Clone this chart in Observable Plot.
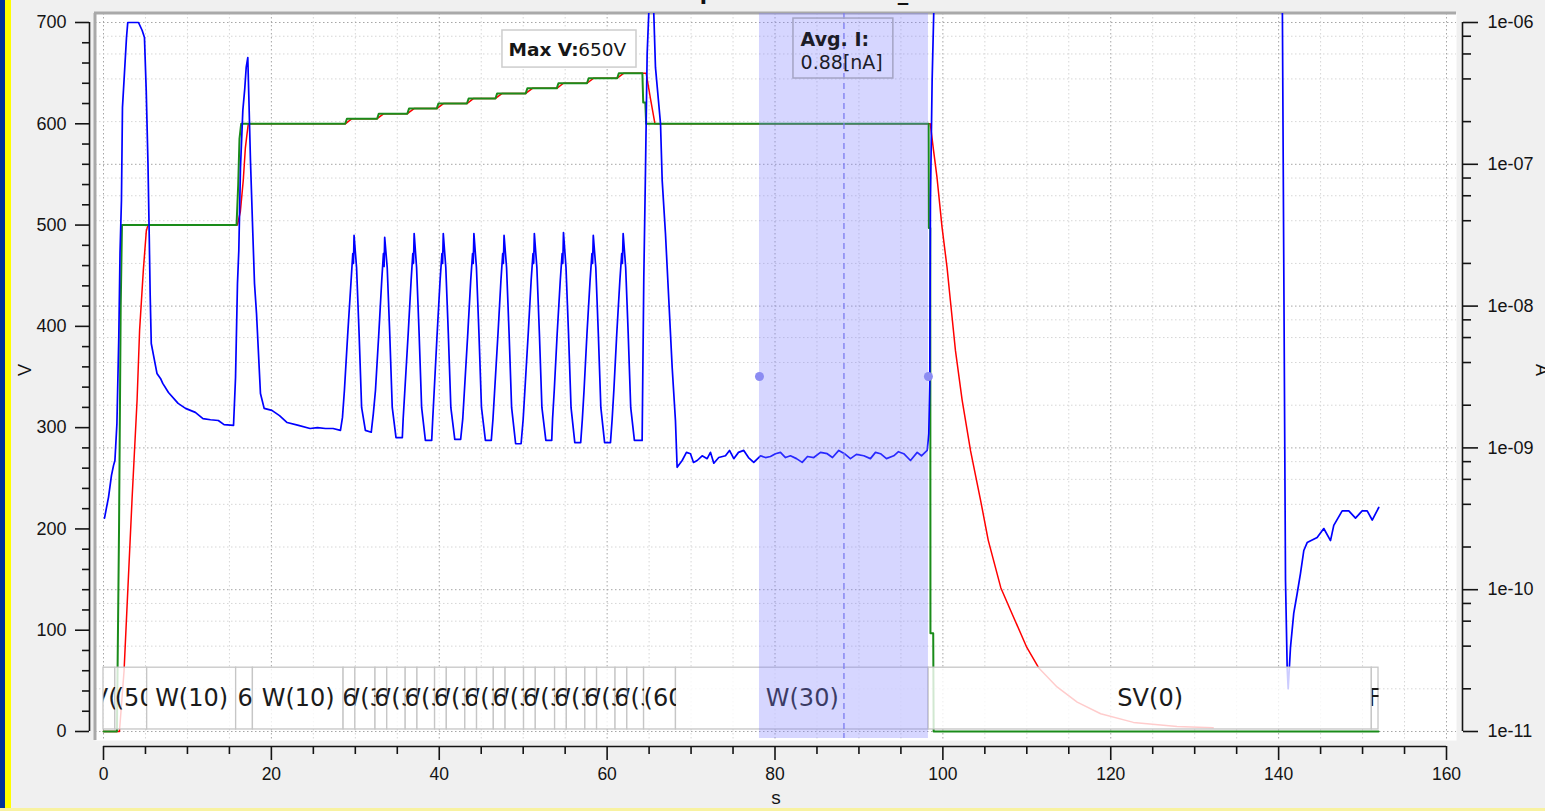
<!DOCTYPE html>
<html><head><meta charset="utf-8">
<script src="https://cdn.jsdelivr.net/npm/d3@7"></script>
<script src="https://cdn.jsdelivr.net/npm/@observablehq/plot@0.6"></script>
<style>
html,body{margin:0;padding:0;background:#f0f0f0;overflow:hidden;}
#wrap{position:relative;width:1545px;height:811px;overflow:hidden;background:#f0f0f0;}
#title{position:absolute;left:0;width:1585px;top:-19px;line-height:21px;text-align:center;font:bold 21px "DejaVu Sans";color:#111;white-space:nowrap;}
.stripeB{position:absolute;left:0;top:0;width:5px;height:811px;background:#003399;}
.stripeY{position:absolute;left:5px;top:0;width:6px;height:811px;background:#ffff00;}
.bottomY{position:absolute;left:0;bottom:0;width:1545px;height:3px;background:#f8f2a0;}
#chart{position:absolute;left:0;top:0;}
</style></head><body>
<div id="wrap">
  <div id="title">Ramp Hold test 650V_01</div>
  <div id="chart"></div>
  <div class="stripeB"></div><div class="stripeY"></div><div class="bottomY"></div>
</div>
<script>
// ---------- data ----------
// set voltage [s, V]
const setVoltage = [[0,0],[1.6,0],[1.85,200],[2.05,420],[2.2,500],[15.85,500],[15.95,520],[16.05,540],[16.2,585],[16.4,600],
 [28.8,600],[29.0,605],[32.6,605],[32.8,610],[36.2,610],[36.4,615],[39.7,615],[39.9,620],[43.3,620],[43.5,625],
 [46.7,625],[46.9,630],[50.3,630],[50.5,635],[54.0,635],[54.2,640],[57.6,640],[57.8,645],[61.2,645],[61.4,650],
 [64.2,650],[64.3,621],[64.55,621],[64.65,600],[98.3,600],[98.33,497],[98.5,497],[98.52,97],[98.85,97],[98.9,0],[151.9,0]];
// measured voltage [s, V]
const measVoltage = [[0,0],[1.9,0],[2.45,60],[3.4,229],[4.0,327],[4.3,396],[4.75,456],[5.1,494],[5.3,500],
 [15.95,500],[16.3,513],[16.65,544],[16.9,576],[17.1,590],[17.25,600],
 [28.8,600],[29.6,605],[32.6,605],[33.4,610],[36.2,610],[37.0,615],[39.7,615],[40.5,620],[43.3,620],[44.1,625],
 [46.7,625],[47.5,630],[50.3,630],[51.1,635],[54.0,635],[54.8,640],[57.6,640],[58.4,645],[61.2,645],[62.0,650],
 [64.65,650],[65.2,623],[65.7,600],
 [98.5,600],[98.9,573],[99.3,547],[99.9,498],[100.5,458],[100.9,425],[101.5,376],[102.3,327],[103.3,277],[104.5,228],
 [105.4,189],[106.9,142],[108.1,119],[110.0,83],[111.4,63],[113.6,44],[116.0,29],[118.8,17.5],[122.7,9],[127.9,5],[132.2,3.6]];
// current [s, nA]
const current = [[0.12,0.32],[0.6,0.45],[0.95,0.64],[1.19,0.75],[1.36,0.815],[1.6,1.49],[1.82,6.0],[1.97,23.9],[2.14,56],[2.26,252],
 [2.5,444],[2.74,784],[2.89,1000],[4.17,1000],[4.61,878],[4.88,784],[5.09,332],[5.3,100],[5.45,31],[5.56,12],[5.69,5.45],
 [5.96,4.49],[6.37,3.35],[6.79,3.09],[7.06,2.85],[7.74,2.46],[8.89,2.06],[9.77,1.90],[10.94,1.78],[11.85,1.61],[12.75,1.58],
 [13.68,1.56],[14.36,1.46],[15.49,1.44],[15.73,3.14],[15.96,14.4],[16.12,24.7],[16.32,95],[16.6,240],[16.83,342],[17.0,482],
 [17.19,566],[17.31,306],[17.51,106],[17.79,32.5],[17.99,14.4],[18.23,8.87],[18.7,2.42],[19.14,1.90],[20.06,1.84],[20.97,1.69],
 [21.88,1.51],[23.23,1.44],[24.61,1.37],[25.49,1.39],[26.45,1.37],[27.35,1.37],[28.23,1.33],[28.47,1.64],
 [28.7,2.54],[29.1,6.41],[29.5,15.2],[29.7,23.5],[29.78,20],[29.85,31.5],[30.15,18.7],[30.45,6.41],[30.75,1.93],[31.2,1.33],[31.9,1.29],
 [32.15,1.75],[32.4,2.54],[32.8,6.41],[33.15,15.2],[33.35,23.5],[33.43,19],[33.5,30.5],[33.8,18.7],[34.1,6.41],[34.4,1.93],[34.85,1.18],[35.6,1.18],
 [35.7,1.6],[35.9,2.54],[36.3,6.41],[36.65,15.2],[36.85,23.5],[36.93,20],[37.01,32.5],[37.3,18.7],[37.6,6.41],[37.9,1.93],[38.35,1.13],[39.1,1.13],
 [39.2,1.5],[39.4,2.54],[39.75,6.41],[40.1,15.2],[40.32,23.5],[40.4,20],[40.48,32.5],[40.78,18.7],[41.08,6.41],[41.38,1.93],[41.85,1.15],[42.55,1.15],
 [42.8,1.6],[43.0,2.54],[43.4,6.41],[43.75,15.2],[43.97,23.5],[44.05,20],[44.13,32.5],[44.43,18.7],[44.73,6.41],[45.03,1.93],[45.5,1.13],[46.2,1.13],
 [46.4,1.6],[46.6,2.54],[47.0,6.41],[47.35,15.2],[47.56,23.5],[47.64,20],[47.72,31.5],[48.02,18.7],[48.32,6.41],[48.62,1.93],[49.1,1.07],[49.75,1.07],
 [50.0,1.6],[50.2,2.54],[50.6,6.41],[50.95,15.2],[51.17,23.5],[51.25,20],[51.33,32.5],[51.63,18.7],[51.93,6.41],[52.23,1.93],[52.7,1.13],[53.4,1.13],
 [53.5,1.6],[53.7,2.54],[54.05,6.41],[54.42,15.2],[54.64,23.5],[54.72,20],[54.8,33],[55.1,18.7],[55.4,6.41],[55.7,1.93],[56.15,1.09],[56.85,1.09],
 [57.05,1.6],[57.25,2.54],[57.6,6.41],[57.97,15.2],[58.19,23.5],[58.27,20],[58.35,31.5],[58.65,18.7],[58.95,6.41],[59.25,1.93],[59.7,1.09],[60.4,1.09],
 [60.6,1.6],[60.8,2.54],[61.15,6.41],[61.52,15.2],[61.74,23.5],[61.82,20],[61.91,32.5],[62.21,18.7],[62.51,6.41],[62.81,1.93],[63.25,1.13],[63.74,1.13],
 [64.17,1.13],[64.37,15.9],[64.57,90],[64.77,604],[64.96,1157],[65.1,2000],[65.4,2000],[65.56,1157],[65.76,482],[66.36,194],[66.56,77],
 [66.95,32.5],[67.35,11.0],[67.75,3.69],[68.14,1.56],[68.34,0.73],
 [68.94,0.815],[69.45,0.93],[69.93,0.91],[70.29,0.79],[70.73,0.815],[71.32,0.88],[71.92,0.84],[72.31,0.93],[72.71,0.78],[73.3,0.855],
 [74.1,0.88],[74.58,0.96],[75.09,0.84],[75.65,0.93],[76.28,0.96],[76.84,0.855],[77.47,0.79],[78.27,0.88],[78.87,0.855],[79.46,0.87],
 [80.06,0.91],[80.65,0.93],[81.25,0.855],[81.84,0.88],[82.56,0.84],[83.24,0.79],[83.87,0.87],[84.62,0.855],[85.42,0.93],[86.22,0.91],
 [86.85,0.855],[87.6,0.96],[88.28,0.91],[88.99,0.84],[89.7,0.9],[90.58,0.88],[91.37,0.84],[91.97,0.93],[92.57,0.91],[93.28,0.84],
 [94.15,0.88],[94.71,0.94],[95.34,0.91],[96.14,0.815],[96.94,0.93],[97.45,0.88],[98.13,0.96],
 [98.32,1.26],[98.44,2.85],[98.52,56],[98.72,390],[98.91,1157],[99.05,3000],[140.3,3000],[140.45,1157],
 [140.82,0.116],[141.02,0.028],[141.14,0.020],[141.41,0.039],[141.8,0.068],[142.21,0.094],[142.6,0.13],[143.0,0.189],[143.4,0.215],
 [144.59,0.233],[145.38,0.27],[146.18,0.222],[146.57,0.284],[147.57,0.36],[148.36,0.36],[149.16,0.32],[149.95,0.36],[150.55,0.36],
 [151.15,0.31],[151.93,0.38]];

// program step strip
const stripStart = [0,1.4,5.2,15.8,17.8, 28.6,30.0, 32.4,33.8, 36.0,37.4, 39.5,40.9, 43.1,44.5, 46.5,47.9, 50.1,51.5, 53.8,55.2, 57.4,58.8, 61.0,62.4, 64.4,68.2,98.3,151.1];
const stripEnd   = [1.4,5.2,15.8,17.8,28.6, 30.0,32.4, 33.8,36.0, 37.4,39.5, 40.9,43.1, 44.5,46.5, 47.9,50.1, 51.5,53.8, 55.2,57.4, 58.8,61.0, 62.4,64.4, 68.2,98.3,151.1,151.9];
const stripLabel = ["SV(0)","SV(500)","W(10)","SV(600)","W(10)",
 "SV(605)","W(3)","SV(610)","W(3)","SV(615)","W(3)","SV(620)","W(3)","SV(625)","W(3)",
 "SV(630)","W(3)","SV(635)","W(3)","SV(640)","W(3)","SV(645)","W(3)","SV(650)","W(3)",
 "SV(600)","W(30)","SV(0)","F"];

// averaging band and annotations
const band = [78.15, 98.28];
const avgLabel = ["Avg. I:", "0.88[nA]"];
const maxLabel = ["Max V:", "650V"];

// ticks
const xMajor = [0,20,40,60,80,100,120,140,160];
const xMajorLabels = ["0","20","40","60","80","100","120","140","160"];
const xMinor = [0,5,10,15,20,25,30,35,40,45,50,55,60,65,70,75,80,85,90,95,100,105,110,115,120,125,130,135,140,145,150,155,160];
const yMajor = [0,100,200,300,400,500,600,700];
const yMajorLabels = ["0","100","200","300","400","500","600","700"];
const yMinor = [0,20,40,60,80,100,120,140,160,180,200,220,240,260,280,300,320,340,360,380,400,420,440,460,480,500,520,540,560,580,600,620,640,660,680,700];
const rightExp = [-11,-10,-9,-8,-7,-6];
const rightLabels = ["1e-11","1e-10","1e-09","1e-08","1e-07","1e-06"];
const rightMinorMant = [2,4,6,8];

// ---------- log current -> left (V) scale position ----------
const vTop = yMajor[yMajor.length-1];
const eLo = rightExp[0], eHi = rightExp[rightExp.length-1];
const curY = nA => (Math.log10(nA*1e-9) - eLo) * vTop / (eHi - eLo);
const ampY = a => (Math.log10(a) - eLo) * vTop / (eHi - eLo);

const rMajorY = rightExp.map(e => ampY(Math.pow(10, e)));
const rMinorY = [];
rightExp.slice(0,-1).forEach(e => rightMinorMant.forEach(m => rMinorY.push(ampY(m*Math.pow(10,e)))));
const rLabelMap = new Map(rMajorY.map((y,i)=>[y, rightLabels[i]]));
const xLabelMap = new Map(xMajor.map((x,i)=>[x, xMajorLabels[i]]));
const yLabelMap = new Map(yMajor.map((y,i)=>[y, yMajorLabels[i]]));

const strip = stripLabel.map((label,i)=>({start:stripStart[i], end:stripEnd[i], label}));
const STRIP_V = [2, 63];         // strip vertical extent (in V units)
const STRIP_MID = 32.5;
const xMinorOnly = xMinor.filter(v => !xMajor.includes(v));
const yMinorOnly = yMinor.filter(v => !yMajor.includes(v));

const ink = "#141414";
const labelFont = "'Liberation Sans', Arial, sans-serif";

const chart = Plot.plot({
  width: 1545, height: 811,
  marginLeft: 89, marginRight: 83, marginTop: 13, marginBottom: 65,
  x: {domain: [0,160], range: [103,1446], axis: null},
  y: {domain: [0,700], range: [731,22], axis: null},
  style: {background: "transparent", fontFamily: labelFont, color: ink, overflow: "visible"},
  marks: [
    Plot.frame({fill: "white", stroke: "none", insetLeft: 6, insetRight: 6, insetBottom: 6}),
    // grid
    Plot.ruleX(xMinorOnly, {stroke: "#d6d6d6", strokeDasharray: "1.5,2.5", insetBottom: 6}),
    Plot.ruleX(xMajor, {stroke: "#a6a6a6", strokeDasharray: "1.5,2.5", insetBottom: 6}),
    Plot.ruleY(rMinorY, {stroke: "#d6d6d6", strokeDasharray: "1.5,2.5", insetLeft: 6, insetRight: 6}),
    Plot.ruleY(rMajorY, {stroke: "#a6a6a6", strokeDasharray: "1.5,2.5", insetLeft: 6, insetRight: 6}),
    // frame borders (top/left)
    Plot.ruleX([0], {dx: -8.5, insetBottom: 6, stroke: "#a9a9a9", strokeWidth: 3}),
    Plot.ruleY([700], {dy: -9.5, insetLeft: 5, insetRight: 6, stroke: "#a9a9a9", strokeWidth: 3}),
    // series (measured below set so the plateaus read green)
    Plot.line(measVoltage, {x: d=>d[0], y: d=>d[1], stroke: "#ff0000", strokeWidth: 1.5, clip: true}),
    Plot.line(setVoltage, {x: d=>d[0], y: d=>d[1], stroke: "#1a8c1a", strokeWidth: 2, clip: true}),
    Plot.line(current, {x: d=>d[0], y: d=>curY(d[1]), stroke: "#0000ff", strokeWidth: 1.7, clip: true}),
    // program strip
    Plot.rect(strip, {x1: "start", x2: "end", y1: STRIP_V[0], y2: STRIP_V[1], fill: "white", fillOpacity: 0.8, stroke: "#c6c6c6", strokeWidth: 1.3}),
    Plot.text(strip, {x: d=>(d.start+d.end)/2, y: STRIP_MID, text: "label", fontSize: 24, fontFamily: "DejaVu Sans", fill: "#1b1b1b"}),
    // averaging band
    Plot.rect([band], {x1: d=>d[0], x2: d=>d[1], fill: "#7f7fff", fillOpacity: 0.32, insetBottom: 8}),
    Plot.ruleX([(band[0]+band[1])/2], {stroke: "#7b7bf0", strokeDasharray: "6,4", strokeWidth: 1.3, insetBottom: 8}),
    Plot.dot(band, {x: d=>d, r: 4.5, fill: "#8c8cf2", stroke: "none", dy: -3.5}),
    // Avg box
    Plot.rect([0], {x1: 82.2, x2: 94.1, y1: 644.7, y2: 703.9, fill: "none", stroke: "#a4a4c4", strokeWidth: 1.5}),
    Plot.text([avgLabel[0]], {x: 83.05, y: 683, text: d=>d, textAnchor: "start", fontSize: 19, fontWeight: "bold", fontFamily: "DejaVu Sans", fill: "#1c1c28"}),
    Plot.text([avgLabel[1]], {x: 83.05, y: 660.5, text: d=>d, textAnchor: "start", fontSize: 19, fontFamily: "DejaVu Sans", fill: "#1c1c28"}),
    // Max V box
    Plot.rect([0], {x1: 47.53, x2: 63.5, y1: 655.5, y2: 692.1, fill: "white", stroke: "#cdcdcd", strokeWidth: 1.5}),
    Plot.text([maxLabel[0]], {x: 48.25, y: 672.5, text: d=>d, textAnchor: "start", fontSize: 18.5, fontWeight: "bold", fontFamily: "DejaVu Sans", fill: "#161616"}),
    Plot.text([maxLabel[1]], {x: 56.55, y: 672.5, text: d=>d, textAnchor: "start", fontSize: 18.5, fontFamily: "DejaVu Sans", fill: "#161616"}),
    // bottom axis
    Plot.ruleY([0], {x1: 0, x2: 160, dy: 15, stroke: ink, strokeWidth: 1.6}),
    Plot.axisX({ticks: xMajor, tickSize: 14, tickPadding: 7, tickFormat: d=>xLabelMap.get(d), fontSize: 17.5, strokeWidth: 1.6}),
    Plot.axisX({ticks: xMinorOnly, tickSize: 8, tickFormat: ()=>"", strokeWidth: 1.6}),
    // left axis
    Plot.ruleX([0], {y1: 0, y2: 700, dx: -14, stroke: ink, strokeWidth: 1.6}),
    Plot.axisY({anchor: "left", ticks: yMajor, tickSize: 14, tickPadding: 9, tickFormat: d=>yLabelMap.get(d), fontSize: 18, strokeWidth: 1.6}),
    Plot.axisY({anchor: "left", ticks: yMinorOnly, tickSize: 7, tickFormat: ()=>"", strokeWidth: 1.6}),
    // right axis
    Plot.ruleX([160], {y1: 0, y2: 700, dx: 16, stroke: ink, strokeWidth: 1.6}),
    Plot.axisY({anchor: "right", ticks: rMajorY, tickSize: 15, tickPadding: 10, tickFormat: d=>rLabelMap.get(d), fontSize: 18, strokeWidth: 1.6}),
    Plot.axisY({anchor: "right", ticks: rMinorY, tickSize: 8, tickFormat: ()=>"", strokeWidth: 1.6}),
    // axis titles
    Plot.text(["V"], {text: d=>d, frameAnchor: "left", dx: -64, dy: -4, rotate: -90, fontSize: 18}),
    Plot.text(["A"], {text: d=>d, frameAnchor: "right", dx: 79, dy: -4, rotate: 90, fontSize: 18}),
    Plot.text(["s"], {text: d=>d, frameAnchor: "bottom", dy: 57, fontSize: 19})
  ]
});
document.getElementById("chart").appendChild(chart);

// clip each strip label to its own box
(function(){
  const svg = d3.select(chart);
  const xs = chart.scale("x"), ys = chart.scale("y");
  const defs = svg.insert("defs", ":first-child");
  const texts = svg.selectAll('g[fill="#1b1b1b"] text').nodes();
  texts.forEach((node, i) => {
    const s = strip[i]; if (!s) return;
    const id = "clipStrip" + i;
    const x0 = xs.apply(s.start), x1 = xs.apply(s.end);
    const y0 = ys.apply(STRIP_V[1]), y1 = ys.apply(STRIP_V[0]);
    defs.append("clipPath").attr("id", id).append("rect")
      .attr("x", x0).attr("y", y0).attr("width", x1 - x0).attr("height", y1 - y0);
    const g = d3.select(node.parentNode).insert("g", () => node).attr("clip-path", `url(#${id})`);
    g.node().appendChild(node);
  });
})();
</script>
</body></html>
